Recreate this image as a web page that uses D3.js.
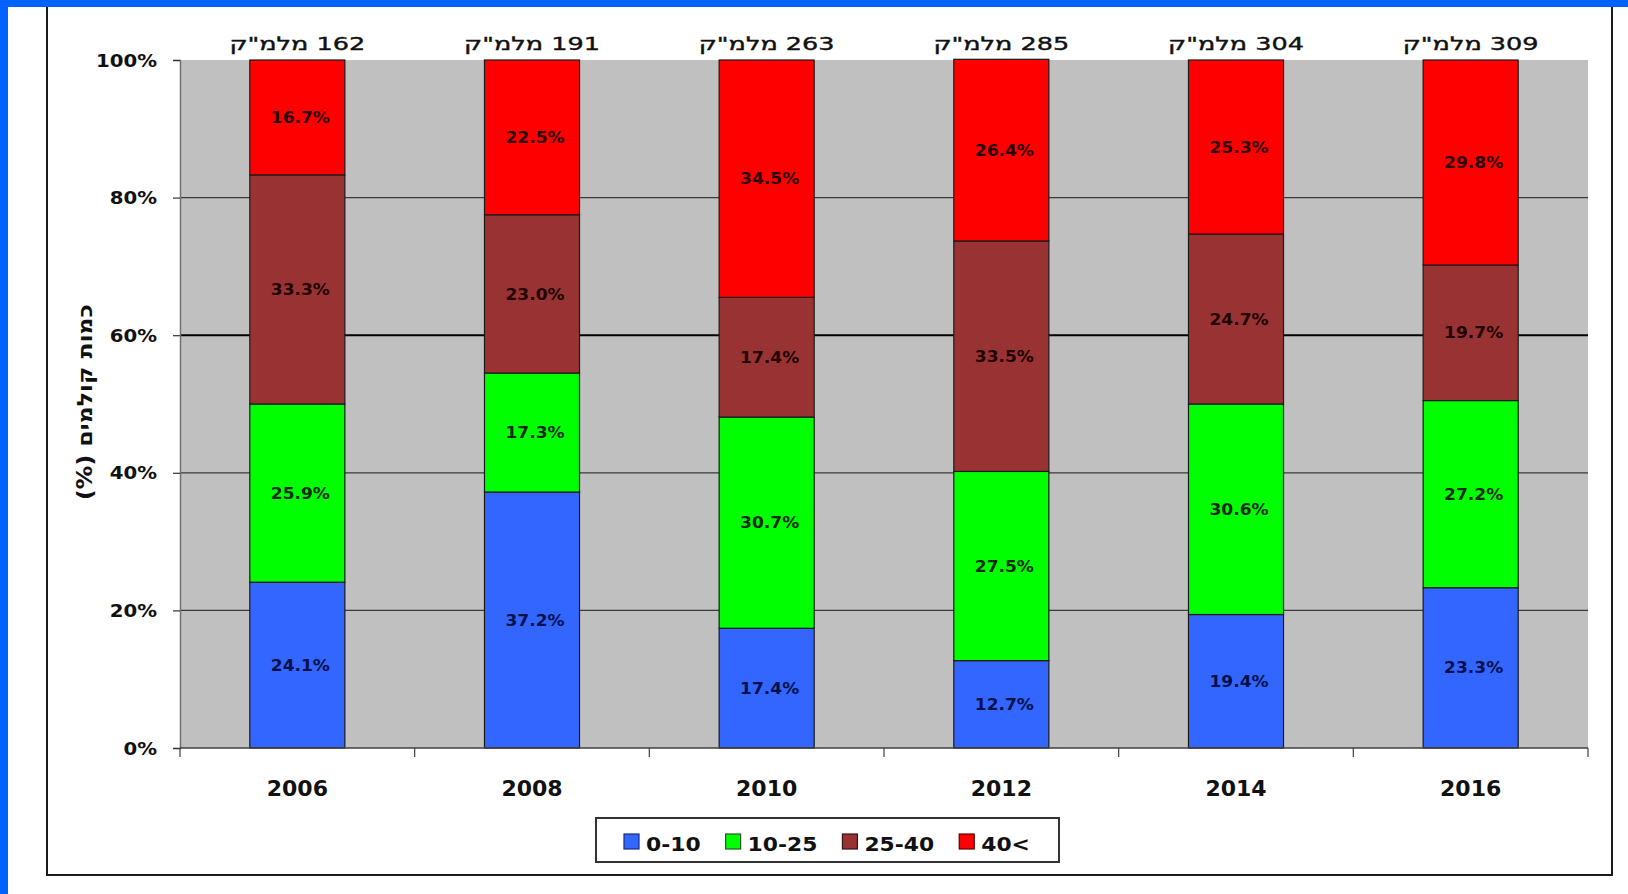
<!DOCTYPE html>
<html lang="he">
<head>
<meta charset="utf-8">
<script src="https://cdn.jsdelivr.net/npm/d3@7/dist/d3.min.js"></script>
<style>
  html, body { margin: 0; padding: 0; background: #ffffff; }
  svg { display: block; }
  text { font-family: "DejaVu Sans", "Liberation Sans", sans-serif; }
</style>
</head>
<body>
<svg id="chart" width="1628" height="894"></svg>
<script>
// Years on the x axis
const years = ["2006", "2008", "2010", "2012", "2014", "2016"];
// Totals shown above each column
const totals = [162, 191, 263, 285, 304, 309];
// Share of each class (%) per year, bottom to top
const seriesNames = ["0-10", "10-25", "25-40", "40<"];
const share0to10  = [24.1, 37.2, 17.4, 12.7, 19.4, 23.3];
const share10to25 = [25.9, 17.3, 30.7, 27.5, 30.6, 27.2];
const share25to40 = [33.3, 23.0, 17.4, 33.5, 24.7, 19.7];
const share40plus = [16.7, 22.5, 34.5, 26.4, 25.3, 29.8];
const yTicks = [0, 20, 40, 60, 80, 100];
const unitLabel = "מלמ\"ק";
const yTitle = "כמות קולמים (%)";

const seriesValues = [share0to10, share10to25, share25to40, share40plus];
const fills   = ["#3366ff", "#00ff00", "#993333", "#ff0000"];
const edges   = ["#1a2a80", "#1f5a1f", "#3a1010", "#5a0000"];
const inkCols = ["#00104a", "#0a2a0a", "#200000", "#2a0000"];

const svg = d3.select("#chart");
const W = 1628, H = 894;

// page frame
svg.append("rect").attr("x", 0).attr("y", 0).attr("width", W).attr("height", H).attr("fill", "#ffffff");
svg.append("path")
  .attr("d", "M47,0 V875 H1612 V0")
  .attr("fill", "none").attr("stroke", "#1a1a1a").attr("stroke-width", 2);
svg.append("rect").attr("x", 0).attr("y", 0).attr("width", W).attr("height", 7).attr("fill", "#0062ff");
svg.append("rect").attr("x", 0).attr("y", 0).attr("width", 8).attr("height", H).attr("fill", "#0062ff");

const plot = { left: 180, right: 1588, top: 60, bottom: 748 };

const x = d3.scaleBand()
  .domain(years)
  .range([plot.left, plot.right])
  .paddingInner(0.595)
  .paddingOuter(0.2975);
const y = d3.scaleLinear().domain([0, 100]).range([plot.bottom, plot.top]);

// stacked layout
const rows = years.map((yr, i) => {
  const r = { year: yr };
  seriesNames.forEach((s, k) => { r[s] = seriesValues[k][i]; });
  return r;
});
const stacked = d3.stack().keys(seriesNames)(rows);

// plot background
svg.append("rect")
  .attr("x", plot.left).attr("y", plot.top)
  .attr("width", plot.right - plot.left).attr("height", plot.bottom - plot.top)
  .attr("fill", "#c0c0c0");

// gridlines
svg.append("g").selectAll("line")
  .data(yTicks.filter(t => t > 0 && t < 100))
  .join("line")
  .attr("x1", plot.left).attr("x2", plot.right)
  .attr("y1", d => y(d)).attr("y2", d => y(d))
  .attr("stroke", d => d === 60 ? "#000000" : "#3a3a3a")
  .attr("stroke-width", d => d === 60 ? 2 : 1.2);

// bars
const layers = svg.append("g").selectAll("g")
  .data(stacked)
  .join("g")
  .attr("fill", (d, k) => fills[k]);

layers.selectAll("rect")
  .data(d => d.map(p => ({ p, key: d.key })))
  .join("rect")
  .attr("x", d => x(d.p.data.year))
  .attr("width", x.bandwidth())
  .attr("y", d => y(d.p[1]))
  .attr("height", d => y(d.p[0]) - y(d.p[1]))
  .attr("stroke", "#1a1a1a")
  .attr("stroke-width", 1.2);

// value labels inside segments
stacked.forEach((layer, k) => {
  svg.append("g").selectAll("text")
    .data(layer)
    .join("text")
    .attr("transform", d => `translate(${x(d.data.year) + x.bandwidth() / 2 + 3},${y((d[0] + d[1]) / 2)}) scale(1.1,1)`)
    .attr("text-anchor", "middle")
    .attr("dy", "0.36em")
    .attr("font-size", 15.5)
    .attr("font-weight", "bold")
    .attr("fill", inkCols[k])
    .text(d => d.data[layer.key].toFixed(1) + "%");
});

// y axis
const yAxis = svg.append("g")
  .attr("transform", `translate(${plot.left},0)`)
  .call(d3.axisLeft(y).tickValues(yTicks).tickFormat(d => d + "%").tickSize(7).tickPadding(0));
yAxis.select(".domain").attr("stroke", "#707070").attr("stroke-width", 1.5);
yAxis.selectAll(".tick line").attr("stroke", "#333").attr("stroke-width", 1.2);
yAxis.selectAll(".tick text")
  .attr("x", null).attr("dy", "0.36em")
  .attr("transform", "translate(-23,0) scale(1.16,1)")
  .attr("text-anchor", "end")
  .attr("font-size", 17)
  .attr("font-weight", "bold")
  .attr("font-family", "DejaVu Sans")
  .attr("fill", "#111");

// x axis: baseline and tick marks between categories
const step = x.step();
svg.append("line")
  .attr("x1", plot.left).attr("x2", plot.right)
  .attr("y1", plot.bottom).attr("y2", plot.bottom)
  .attr("stroke", "#404040").attr("stroke-width", 1.5);
svg.append("g").selectAll("line")
  .data(d3.range(years.length + 1))
  .join("line")
  .attr("x1", i => plot.left + i * step).attr("x2", i => plot.left + i * step)
  .attr("y1", plot.bottom).attr("y2", plot.bottom + 9)
  .attr("stroke", "#404040").attr("stroke-width", 1.2);

svg.append("g").selectAll("text")
  .data(years)
  .join("text")
  .attr("x", d => x(d) + x.bandwidth() / 2)
  .attr("y", 796)
  .attr("text-anchor", "middle")
  .attr("font-size", 22)
  .attr("font-weight", "bold")
  .attr("fill", "#111")
  .text(d => d);

// totals above the columns
svg.append("g").selectAll("text")
  .data(years)
  .join("text")
  .attr("transform", d => `translate(${x(d) + x.bandwidth() / 2},50) scale(1.38,1)`)
  .attr("text-anchor", "middle")
  .attr("direction", "rtl")
  .attr("font-size", 18.5)
  .attr("font-weight", "normal")
  .attr("stroke", "#111").attr("stroke-width", 0.4)
  .attr("fill", "#111")
  .text((d, i) => `${totals[i]} ${unitLabel}`);

// y axis title
svg.append("text")
  .attr("transform", "translate(92,402) rotate(-90) scale(1.12,1)")
  .attr("text-anchor", "middle")
  .attr("direction", "rtl")
  .attr("font-size", 21)
  .attr("font-weight", "bold")
  .attr("fill", "#111")
  .text(yTitle);

// legend
const legend = svg.append("g");
legend.append("rect")
  .attr("x", 596).attr("y", 818).attr("width", 463).attr("height", 44)
  .attr("fill", "#ffffff").attr("stroke", "#333").attr("stroke-width", 2);
let lx = 624;
seriesNames.forEach((name, k) => {
  legend.append("rect")
    .attr("x", lx).attr("y", 834).attr("width", 15).attr("height", 15)
    .attr("fill", fills[k]).attr("stroke", edges[k]).attr("stroke-width", 1.2);
  const t = legend.append("text")
    .attr("transform", `translate(${lx + 22},851) scale(1.12,1)`)
    .attr("font-size", 19.5)
    .attr("font-weight", "bold")
    .attr("fill", "#111")
    .text(name);
  lx += 22 + t.node().getComputedTextLength() * 1.12 + 25;
});
</script>
</body>
</html>
